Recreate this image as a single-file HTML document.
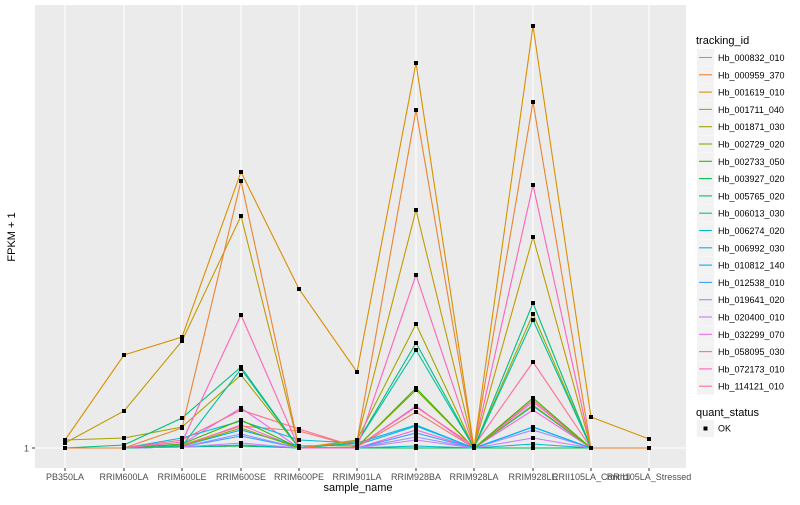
<!DOCTYPE html>
<html><head><style>body{margin:0;background:#fff}svg{font-family:"Liberation Sans",sans-serif}</style></head>
<body>
<svg id="s" width="800" height="500" xmlns="http://www.w3.org/2000/svg">
<rect x="0" y="0" width="800" height="500" fill="#fff"/>
<rect x="35" y="5" width="651" height="463" fill="#EBEBEB"/>
<g id="grid"></g>
<g id="lines"></g>
<g id="pts"></g>
<line x1="32" y1="448" x2="35" y2="448" stroke="#333" stroke-width="1"/>
<text x="29" y="451.5" font-size="9" fill="#4d4d4d" text-anchor="end">1</text>
<text transform="translate(15,237) rotate(-90)" font-size="11" text-anchor="middle" fill="#000">FPKM + 1</text>
<g id="xl" font-size="9" fill="#4d4d4d" text-anchor="middle"></g>
<text x="358" y="491" font-size="11" text-anchor="middle" fill="#000">sample_name</text>
<text x="696" y="44" font-size="11" fill="#000">tracking_id</text>
<g id="leg" font-size="9" fill="#000"></g>
<text x="696" y="416" font-size="11" fill="#000">quant_status</text>
<rect x="697" y="420" width="17" height="17" fill="#F2F2F2"/>
<rect x="703.5" y="426.5" width="4" height="4" fill="#000"/>
<text x="718" y="431.5" font-size="9" fill="#000">OK</text>
</svg>
<script>
var X=[65,124,182,241,299,357,416,474,533,591,649];
var names=["PB350LA","RRIM600LA","RRIM600LE","RRIM600SE","RRIM600PE","RRIM901LA","RRIM928BA","RRIM928LA","RRIM928LE","RRII105LA_Control","RRII105LA_Stressed"];
var ids=["Hb_000832_010","Hb_000959_370","Hb_001619_010","Hb_001711_040","Hb_001871_030","Hb_002729_020","Hb_002733_050","Hb_003927_020","Hb_005765_020","Hb_006013_030","Hb_006274_020","Hb_006992_030","Hb_010812_140","Hb_012538_010","Hb_019641_020","Hb_020400_010","Hb_032299_070","Hb_058095_030","Hb_072173_010","Hb_114121_010"];
var cols=["#F8766D","#EA8331","#D89000","#C09B00","#A3A500","#7CAE00","#39B600","#00BB4E","#00BF7D","#00C1A3","#00BFC4","#00BAE0","#00B0F6","#35A2FF","#9590FF","#C77CFF","#E76BF3","#FA62DB","#FF62BC","#FF6C91"];
var D=[
[2,[440,355,337,172,289,372,63,448,26,417,439]],
[1,[448,448,428,181,448,441,110,448,102,448,448]],
[3,[443,411,341,216,448,441,210,448,237,448,448]],
[18,[448,448,442,315,448,448,275,448,185,448,448]],
[8,[448,445,418,367,448,443,343,448,303,448,448]],
[9,[448,448,446,369,448,443,350,448,320,448,448]],
[4,[440,438,427,375,448,440,324,448,314,448,448]],
[19,[448,448,440,410,429,447,407,446,362,448,448]],
[5,[448,448,446,428,448,447,390,448,405,448,448]],
[6,[448,448,444,420,448,447,388,448,398,448,448]],
[11,[448,448,438,421,440,443,425,448,406,448,448]],
[0,[448,448,445,426,431,447,412,448,400,448,448]],
[12,[448,448,446,430,446,445,426,448,427,448,448]],
[16,[448,448,444,408,448,447,406,448,402,448,448]],
[15,[448,448,447,443,448,448,440,448,438,448,448]],
[14,[448,448,447,434,448,448,437,448,430,448,448]],
[13,[448,448,447,436,448,448,433,448,427,448,448]],
[17,[448,448,446,425,448,448,430,448,410,448,448]],
[10,[448,448,447,445,448,448,446,448,444,448,448]],
[7,[448,448,447,446,448,448,448,448,448,448,448]]];
var NS="http://www.w3.org/2000/svg";
function el(p,t,a,txt){var e=document.createElementNS(NS,t);for(var k in a)e.setAttribute(k,a[k]);if(txt)e.textContent=txt;document.getElementById(p).appendChild(e);}
el("grid","line",{x1:35,x2:686,y1:448,y2:448,stroke:"#fff","stroke-width":1.1});
X.forEach(function(x,i){el("grid","line",{x1:x,x2:x,y1:5,y2:468,stroke:"#fff","stroke-width":1.1});
el("grid","line",{x1:x,x2:x,y1:468,y2:471,stroke:"#333"});
el("xl","text",{x:x,y:480},names[i]);});
D.slice().reverse().forEach(function(d){
el("lines","polyline",{points:d[1].map(function(y,i){return X[i]+","+y}).join(" "),fill:"none",stroke:cols[d[0]],"stroke-width":1.1});
d[1].forEach(function(y,i){el("pts","rect",{x:X[i]-2,y:y-2,width:4,height:4,fill:"#000"});});});
ids.forEach(function(n,i){var y=49+i*17.3;
el("leg","rect",{x:697,y:y,width:17,height:17,fill:"#F2F2F2"});
el("leg","line",{x1:699,x2:712,y1:y+8.5,y2:y+8.5,stroke:cols[i],"stroke-width":1.1});
el("leg","text",{x:718,y:y+12},n);});
</script>
</body></html>
